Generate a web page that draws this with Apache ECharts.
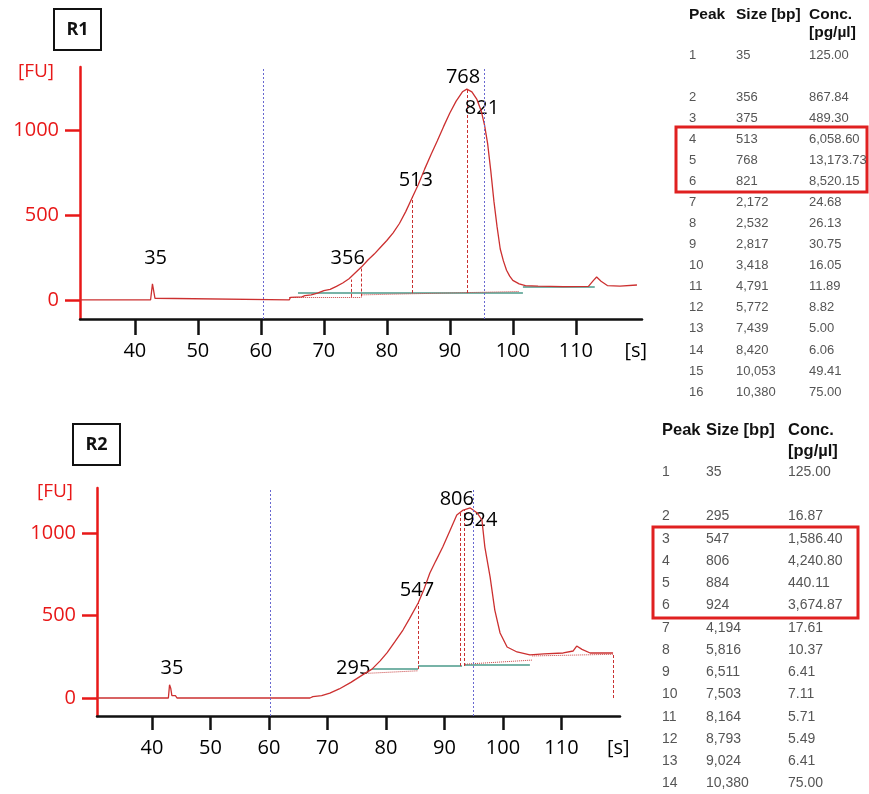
<!DOCTYPE html>
<html>
<head>
<meta charset="utf-8">
<script src="https://cdn.jsdelivr.net/npm/echarts@6/dist/echarts.min.js"></script>
<style>
  html, body { margin: 0; padding: 0; background: #fff; }
  #chart { width: 869px; height: 794px; }
</style>
</head>
<body>
<div id="chart"></div>
<script>
// time [s] vs fluorescence [FU]
const r1Trace = [[31.3,0],[42.5,0],[42.7,5],[42.8,95],[43.1,100],[43.2,10],[43.4,0],[64.5,0],[64.7,15],[66.5,18],[67,25],[68,30],[69,40],[70,55],[71,62],[72,80],[73,100],[74,125],[75,160],[76,195],[77,235],[78,270],[79,310],[80,350],[81,395],[82,450],[83,520],[84,600],[85,680],[86,770],[87,855],[88,935],[89,1020],[90,1100],[91,1170],[92,1225],[92.7,1241],[93.5,1225],[94.3,1180],[95,1110],[95.5,1030],[96,920],[96.5,760],[97,580],[97.5,430],[98,300],[98.5,230],[99,175],[99.5,140],[100,115],[101,95],[102,85],[104,82],[108,78],[112,80],[112.8,115],[113.3,135],[114,110],[115,85],[117,82],[119.7,88]];
const r2Trace = [[30.6,0],[42.8,0],[43,80],[43.2,60],[43.4,15],[43.6,20],[44,15],[44.3,0],[67,0],[67.5,8],[69,15],[70.4,30],[72,55],[74,95],[76,140],[77.6,175],[79,225],[80.2,275],[81.5,340],[82.9,412],[84,480],[85.5,576],[86.5,660],[87.5,758],[88.5,830],[89.7,915],[91,1020],[92.1,1109],[93.2,1139],[94.4,1152],[95.6,1121],[96.4,1079],[96.9,915],[97.8,733],[98.6,533],[99.5,394],[100.7,309],[102.4,279],[104.6,261],[107,268],[110.3,273],[112,285],[112.6,315],[113.5,295],[114.9,273],[118.8,273]];

// peak labels: [time, FU, text]
const r1Labels = [[43.3,247,'35'],[73.8,247,'356'],[84.6,706,'513'],[92.1,1312,'768'],[95.1,1129,'821']];
const r2Labels = [[43.4,182,'35'],[74.4,182,'295'],[85.3,655,'547'],[92.1,1206,'806'],[96.1,1079,'924']];

// peak drop lines: time, baseline FU, top FU
const r1PeakT = [74.4, 76.0, 84.1, 92.7];
const r1PeakBase = [18, 20, 41, 41];
const r1PeakTop = [120, 195, 610, 1241];
const r2PeakT = [85.5, 92.7, 93.3, 118.8];
const r2PeakBase = [176, 194, 194, 0];
const r2PeakTop = [576, 1125, 1140, 273];

// baselines: [t1, fu1, t2, fu2]
const r1Base = [[65.9,41,101.6,41],[101.6,76,113,76]];
const r1BaseDot = [[64.5,18,76,18],[76,30,101,50]];
const r2Base = [[77.6,176,85.5,176],[85.5,194,93,194],[93.5,200,104.6,200]];
const r2BaseDot = [[77,150,85.5,165],[93.5,205,105,230],[105,255,118.8,265]];

// blue markers
const r1Markers = [60.4, 95.4];
const r2Markers = [60.3, 95.0];

const xTicks = [40, 50, 60, 70, 80, 90, 100, 110];
const yTicks = [0, 500, 1000];

// tables
const t1Peak = ['1','2','3','4','5','6','7','8','9','10','11','12','13','14','15','16'];
const t1Size = ['35','356','375','513','768','821','2,172','2,532','2,817','3,418','4,791','5,772','7,439','8,420','10,053','10,380'];
const t1Conc = ['125.00','867.84','489.30','6,058.60','13,173.73','8,520.15','24.68','26.13','30.75','16.05','11.89','8.82','5.00','6.06','49.41','75.00'];
const t2Peak = ['1','2','3','4','5','6','7','8','9','10','11','12','13','14'];
const t2Size = ['35','295','547','806','884','924','4,194','5,816','6,511','7,503','8,164','8,793','9,024','10,380'];
const t2Conc = ['125.00','16.87','1,586.40','4,240.80','440.11','3,674.87','17.61','10.37','6.41','7.11','5.71','5.49','6.41','75.00'];

const RED = '#e81818';
const TRACE = '#cc3030';
const FONT = '"Open Sans", sans-serif';

function xAxisCfg(gi, min, max, sPos, tickLen) {
  return {
    type: 'value', gridIndex: gi, min: min, max: max,
    axisLine: { show: true, onZero: false, lineStyle: { color: '#111', width: 2.5 } },
    axisTick: { show: true, customValues: xTicks, length: tickLen, lineStyle: { color: '#111', width: 2.5 } },
    axisLabel: {
      customValues: xTicks.concat([sPos]),
      formatter: v => v > 115 ? '[s]' : String(v),
      margin: 22, fontSize: 20, color: '#000', fontFamily: FONT
    },
    splitLine: { show: false }
  };
}

function yAxisCfg(gi, min, max) {
  return {
    type: 'value', gridIndex: gi, min: min, max: max,
    axisLine: { show: true, onZero: false, lineStyle: { color: RED, width: 2.5 } },
    axisTick: { show: true, customValues: yTicks, length: 15, lineStyle: { color: RED, width: 2.5 } },
    axisLabel: { customValues: yTicks, formatter: v => String(v), color: RED, fontSize: 20, margin: 21, fontFamily: FONT },
    splitLine: { show: false }
  };
}

function segs(list) {
  return list.map(s => ({ coords: [[s[0], s[1]], [s[2], s[3]]] }));
}

function drops(ts, base, top) {
  return ts.map((t, i) => ({ coords: [[t, base[i]], [t, top[i]]] }));
}

function panelSeries(gi, trace, labels, markers, base, baseDot, pT, pB, pTop) {
  return [
    {
      type: 'lines', coordinateSystem: 'cartesian2d', xAxisIndex: gi, yAxisIndex: gi,
      data: segs(base), lineStyle: { color: '#4a9a8a', width: 1.5, opacity: 1 }, silent: true
    },
    {
      type: 'lines', coordinateSystem: 'cartesian2d', xAxisIndex: gi, yAxisIndex: gi,
      data: segs(baseDot), lineStyle: { color: '#c84040', width: 1, type: 'dotted', opacity: 1 }, silent: true
    },
    {
      type: 'lines', coordinateSystem: 'cartesian2d', xAxisIndex: gi, yAxisIndex: gi,
      data: drops(pT, pB, pTop), lineStyle: { color: '#c83030', width: 1, type: [3, 2], opacity: 1 }, silent: true
    },
    {
      type: 'line', xAxisIndex: gi, yAxisIndex: gi, data: trace,
      showSymbol: false, lineStyle: { color: TRACE, width: 1.3 },
      markLine: {
        symbol: 'none', silent: true, label: { show: false },
        lineStyle: { color: '#6868d0', type: [2, 2], width: 1 },
        data: markers.map(m => ({ xAxis: m }))
      }
    },
    {
      type: 'scatter', xAxisIndex: gi, yAxisIndex: gi, symbolSize: 0, silent: true,
      itemStyle: { color: '#000', opacity: 1 },
      data: labels.map(l => ({ value: [l[0], l[1]], name: l[2] })),
      label: {
        show: true, position: 'inside', formatter: p => p.name, opacity: 1,
        color: '#000', textBorderWidth: 0, fontSize: 20, fontFamily: FONT
      }
    }
  ];
}

function tableGraphics(cols, headY, subY, rowY0, step, hSize, rSize, peaks, sizes, concs) {
  const g = [];
  const hFont = 'bold ' + hSize + 'px "Liberation Sans", Arial, sans-serif';
  const rFont = rSize + 'px "Liberation Sans", Arial, sans-serif';
  ['Peak', 'Size [bp]', 'Conc.'].forEach((h, i) => {
    g.push({ type: 'text', style: { text: h, x: cols[i], y: headY, font: hFont, fill: '#111', textVerticalAlign: 'middle' } });
  });
  g.push({ type: 'text', style: { text: '[pg/µl]', x: cols[2], y: subY, font: hFont, fill: '#111', textVerticalAlign: 'middle' } });
  peaks.forEach((p, i) => {
    const y = rowY0 + (i === 0 ? 0 : (i + 1) * step);
    [p, sizes[i], concs[i]].forEach((t, c) => {
      g.push({ type: 'text', style: { text: t, x: cols[c], y: y, font: rFont, fill: '#555', textVerticalAlign: 'middle' } });
    });
  });
  return g;
}

const chart = echarts.init(document.getElementById('chart'));

const graphics = [
  { type: 'rect', shape: { x: 54, y: 9, width: 47, height: 41 }, style: { fill: '#fff', stroke: '#111', lineWidth: 2 } },
  { type: 'text', style: { text: 'R1', x: 77.5, y: 30, font: 'bold 18px "Open Sans", sans-serif', fill: '#111', textAlign: 'center', textVerticalAlign: 'middle' } },
  { type: 'rect', shape: { x: 73, y: 424, width: 47, height: 41 }, style: { fill: '#fff', stroke: '#111', lineWidth: 2 } },
  { type: 'text', style: { text: 'R2', x: 96.5, y: 445, font: 'bold 18px "Open Sans", sans-serif', fill: '#111', textAlign: 'center', textVerticalAlign: 'middle' } },
  { type: 'text', style: { text: '[FU]', x: 36, y: 72, font: '19px "Open Sans", sans-serif', fill: RED, textAlign: 'center', textVerticalAlign: 'middle' } },
  { type: 'text', style: { text: '[FU]', x: 55, y: 492, font: '19px "Open Sans", sans-serif', fill: RED, textAlign: 'center', textVerticalAlign: 'middle' } },
  { type: 'rect', shape: { x: 676, y: 127, width: 191, height: 65 }, style: { fill: 'none', stroke: '#e02020', lineWidth: 3 } },
  { type: 'rect', shape: { x: 653, y: 527, width: 205, height: 91 }, style: { fill: 'none', stroke: '#e02020', lineWidth: 3 } }
].concat(
  tableGraphics([689, 736, 809], 15, 33, 55, 21.07, 15.5, 13, t1Peak, t1Size, t1Conc),
  tableGraphics([662, 706, 788], 430, 451, 472, 22.25, 16.5, 14, t2Peak, t2Size, t2Conc)
);

chart.setOption({
  animation: false,
  backgroundColor: '#fff',
  grid: [
    { left: 80, top: 67, width: 562, height: 252 },
    { left: 97, top: 488, width: 523, height: 228 }
  ],
  xAxis: [xAxisCfg(0, 31.3, 120.5, 119.5, 16), xAxisCfg(1, 30.6, 120.0, 119.7, 14)],
  yAxis: [yAxisCfg(0, -112, 1371), yAxisCfg(1, -109, 1273)],
  graphic: graphics,
  series: panelSeries(0, r1Trace, r1Labels, r1Markers, r1Base, r1BaseDot, r1PeakT, r1PeakBase, r1PeakTop)
    .concat(panelSeries(1, r2Trace, r2Labels, r2Markers, r2Base, r2BaseDot, r2PeakT, r2PeakBase, r2PeakTop))
});
</script>
</body>
</html>
